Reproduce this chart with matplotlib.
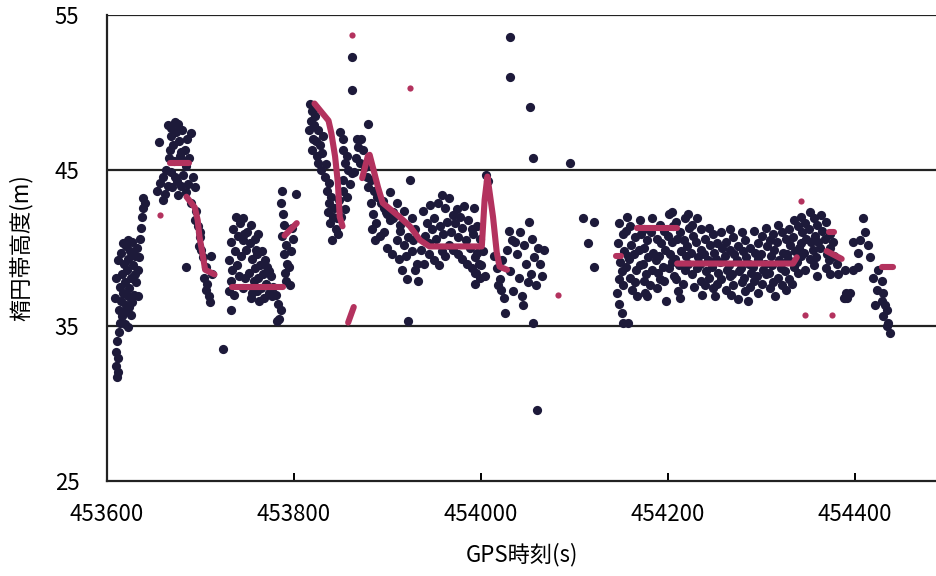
import matplotlib
matplotlib.use("Agg")
import matplotlib.pyplot as plt

plt.rcParams["font.family"] = ["Noto Sans CJK JP", "DejaVu Sans"]

OUT_FILE = "out.png"
DARK = "#1d1a3a"
RED = "#b3325e"

# ── 観測点 (GPS時刻, 楕円体高度) ──
pts_a = [
    (453611, 34.0), (453610, 33.3), (453612, 32.9), (453610, 32.4), (453612, 32.0), (453611, 31.7),
    (453613, 34.6), (453614, 35.2), (453616, 35.6), (453613, 36.0), (453618, 35.9), (453615, 36.6),
    (453620, 36.3), (453617, 37.1), (453622, 36.9), (453614, 37.5), (453619, 37.8), (453624, 37.4),
    (453616, 38.3), (453621, 38.6), (453626, 38.1), (453618, 39.0), (453623, 39.3), (453628, 38.9),
    (453615, 39.7), (453620, 40.1), (453625, 39.8), (453630, 39.5), (453627, 40.4), (453632, 40.0),
    (453624, 36.2), (453629, 37.0), (453631, 37.8), (453633, 38.6), (453634, 39.4), (453635, 40.6),
    (453636, 41.3), (453637, 42.0), (453638, 42.6), (453639, 43.2), (453641, 42.9), (453619, 35.1),
    (453626, 35.7), (453622, 34.9), (453609, 36.8), (453610, 38.1), (453612, 39.2), (453627, 36.5),
    (453630, 38.3), (453633, 36.9), (453617, 40.3), (453622, 40.5),
]
pts_b = [
    (453654, 43.7), (453657, 44.2), (453660, 44.6), (453656, 46.8), (453663, 45.0), (453665, 47.9),
    (453668, 47.2), (453671, 46.6), (453674, 47.5), (453677, 46.9), (453680, 47.6), (453683, 46.3),
    (453686, 47.0), (453690, 47.4), (453666, 45.8), (453669, 44.9), (453672, 45.6), (453675, 44.3),
    (453678, 45.9), (453681, 44.7), (453684, 45.3), (453687, 44.1), (453662, 43.5), (453665, 44.0),
    (453670, 43.9), (453676, 43.4), (453688, 45.8), (453692, 44.6), (453694, 43.9), (453679, 46.2),
    (453673, 48.1), (453667, 46.3), (453685, 43.6), (453669, 47.7), (453676, 48.0), (453682, 45.6),
    (453673, 44.6), (453679, 44.0), (453660, 43.1),
    (453690, 42.9), (453694, 41.8), (453697, 41.4), (453699, 40.7), (453698, 40.1), (453701, 39.9),
    (453703, 39.4), (453706, 38.8), (453704, 38.1), (453707, 37.7), (453706, 37.3), (453709, 36.9),
    (453711, 39.5), (453712, 38.3), (453710, 36.5), (453685, 38.8), (453695, 42.4), (453700, 41.0),
]
pts_c = [
    (453738, 42.0), (453742, 41.6), (453735, 41.2), (453746, 41.9), (453740, 40.8), (453733, 40.4),
    (453745, 40.5), (453750, 41.0), (453737, 39.8), (453743, 39.5), (453749, 39.9), (453753, 40.3),
    (453731, 39.2), (453734, 38.6), (453739, 38.9), (453755, 39.3), (453758, 38.7), (453761, 39.6),
    (453764, 38.9), (453752, 38.4), (453733, 37.9), (453730, 37.2), (453736, 37.0), (453757, 37.9),
    (453762, 38.1), (453767, 38.3), (453770, 37.7), (453760, 37.2), (453765, 37.4), (453773, 37.1),
    (453768, 36.8), (453776, 36.9), (453755, 37.1), (453763, 36.6), (453771, 38.8), (453748, 38.1),
    (453745, 37.4), (453766, 39.8), (453775, 38.2), (453778, 37.5), (453781, 37.0), (453783, 36.4),
    (453786, 36.0), (453784, 35.4), (453758, 40.6), (453762, 40.9), (453741, 38.2), (453747, 40.9),
    (453754, 41.5), (453759, 39.9), (453769, 39.2), (453773, 38.5),
    (453787, 43.7), (453802, 43.5), (453786, 42.9), (453788, 42.2), (453789, 41.5), (453787, 40.8),
    (453791, 40.2), (453789, 39.6), (453793, 39.0), (453790, 38.4), (453795, 38.8), (453797, 39.8),
    (453799, 40.6), (453796, 37.6), (453792, 37.9), (453798, 41.3),
]
pts_d = [
    (453817, 49.3), (453819, 48.8), (453818, 48.2), (453816, 47.6), (453821, 47.9), (453823, 48.5),
    (453826, 47.6), (453820, 47.0), (453824, 46.9), (453828, 46.6), (453819, 46.3), (453825, 45.9),
    (453830, 46.1), (453826, 45.5), (453829, 45.0), (453833, 44.6), (453837, 44.2), (453835, 43.7),
    (453840, 43.3), (453838, 42.9), (453843, 42.6), (453836, 42.3), (453842, 42.0), (453839, 41.6),
    (453845, 41.2), (453841, 40.5), (453847, 40.9), (453846, 41.9), (453822, 49.0), (453831, 47.2),
    (453834, 45.4),
    (453849, 47.5), (453853, 47.0), (453852, 46.3), (453857, 45.9), (453855, 45.5), (453858, 45.0),
    (453853, 44.4), (453860, 44.1), (453852, 43.7), (453857, 43.3), (453848, 43.1), (453862, 44.8),
    (453850, 42.0), (453855, 42.5), (453867, 47.0), (453872, 47.0), (453869, 46.5), (453874, 46.3),
    (453866, 45.8), (453871, 45.5), (453864, 44.9), (453876, 45.2), (453878, 44.6),
    (453882, 44.4), (453879, 43.9), (453886, 43.7), (453889, 43.3), (453882, 42.9), (453893, 42.9),
    (453896, 42.6), (453885, 42.2), (453900, 42.2), (453888, 41.6), (453903, 41.8), (453906, 42.3),
    (453884, 41.2), (453896, 41.0), (453887, 40.5), (453910, 40.5), (453914, 41.1), (453892, 40.8),
    (453900, 40.0), (453905, 39.6), (453912, 39.3), (453918, 40.2), (453920, 39.5), (453926, 39.8),
    (453916, 38.6), (453921, 38.0), (453927, 40.5), (453932, 39.0),
    (453938, 42.4), (453942, 41.6), (453946, 42.8), (453950, 41.9), (453954, 42.9), (453958, 43.4),
    (453962, 42.6), (453966, 43.2), (453970, 42.1), (453940, 40.8), (453944, 40.3), (453948, 41.2),
    (453952, 40.6), (453956, 41.4), (453960, 40.9), (453964, 41.7), (453968, 41.0), (453972, 41.6),
    (453976, 40.7), (453980, 41.3), (453984, 40.5), (453988, 40.0), (453992, 40.9), (453996, 39.7),
    (453974, 42.5), (453978, 42.0), (453982, 42.7), (453986, 41.8), (453990, 41.2), (453994, 39.4),
    (453998, 39.0), (453958, 39.8), (453962, 39.5), (453966, 40.2), (453970, 39.9), (453975, 39.6),
    (453980, 39.3), (453985, 39.0), (453990, 38.7), (453995, 38.4), (453999, 38.1), (453945, 39.6),
    (453950, 39.2), (453955, 38.9), (453936, 39.9), (453929, 38.6), (453933, 37.9), (453930, 41.2),
    (453926, 41.9), (453922, 40.7), (453918, 42.4), (453914, 41.5), (453910, 42.9), (453906, 41.9),
    (453903, 43.6), (453899, 42.3), (453895, 43.0), (453994, 37.7), (453994, 38.4), (453939, 39.0),
]
pts_e = [
    (453993, 42.6), (453996, 41.4), (453999, 40.6), (454002, 39.8), (454000, 38.9), (454004, 38.2),
    (454005, 44.7), (454008, 44.3), (454014, 39.5), (454017, 38.7), (454020, 38.0), (454022, 37.3),
    (454025, 36.8), (454026, 35.8), (454018, 37.6), (454023, 39.2), (454028, 39.9), (454031, 38.5),
    (454034, 37.2), (454036, 40.4), (454039, 39.6), (454041, 38.1), (454044, 36.9), (454042, 41.0),
    (454046, 40.2), (454048, 39.0), (454050, 37.8), (454052, 41.7), (454055, 40.6), (454057, 39.4),
    (454054, 38.3), (454059, 37.6), (454061, 40.0), (454063, 39.0), (454065, 38.2), (454068, 39.9),
    (454045, 36.3), (454030, 41.1), (454033, 40.5),
]
pts_f = [
    (454148, 41.6), (454147, 40.3), (454149, 39.1), (454148, 38.0), (454146, 37.1), (454148, 36.4),
    (454152, 40.9), (454153, 39.8), (454151, 38.5), (454152, 37.6), (454151, 35.8), (454152, 35.2),
    (454156, 42.0), (454155, 41.1), (454157, 39.5), (454155, 38.8),
    (454160, 41.4), (454161, 40.2), (454159, 39.3), (454160, 38.1), (454162, 37.3),
    (454165, 40.7), (454164, 39.6), (454166, 38.6), (454165, 37.8), (454167, 36.9),
    (454170, 41.8), (454171, 40.9), (454169, 39.9), (454170, 38.9),
    (454174, 41.2), (454175, 40.0), (454173, 39.0), (454174, 37.9), (454176, 37.1),
    (454178, 40.5), (454179, 39.4), (454177, 38.3), (454178, 36.9),
    (454183, 41.9), (454182, 41.0), (454184, 39.7), (454183, 38.6), (454181, 37.6),
    (454188, 40.6), (454187, 39.2), (454189, 38.4), (454188, 37.4),
    (454192, 41.5), (454193, 40.3), (454191, 39.5), (454192, 38.0),
    (454196, 41.1), (454197, 39.9), (454195, 38.8), (454196, 37.9), (454198, 36.6),
    (454201, 42.2), (454200, 40.8), (454202, 39.6), (454201, 38.7),
    (454205, 42.3), (454206, 41.4), (454204, 40.4), (454205, 39.1), (454207, 38.2),
    (454209, 41.7), (454210, 40.6), (454208, 39.3), (454209, 38.0), (454211, 37.2),
    (454213, 41.0), (454214, 39.8), (454212, 38.9), (454213, 36.8),
    (454218, 41.9), (454217, 40.5), (454219, 39.5), (454218, 38.6), (454216, 37.7),
    (454222, 42.2), (454223, 41.3), (454221, 40.1), (454222, 39.0),
    (454226, 41.5), (454227, 40.8), (454225, 39.7), (454226, 38.3), (454228, 37.5),
    (454231, 41.9), (454230, 40.4), (454232, 39.4), (454231, 38.7),
    (454235, 41.2), (454236, 39.9), (454234, 39.0), (454235, 37.9), (454237, 37.0),
    (454240, 40.6), (454239, 39.6), (454241, 38.5), (454240, 37.6),
    (454244, 41.3), (454245, 40.2), (454243, 39.2), (454244, 38.1),
    (454248, 40.9), (454249, 39.7), (454247, 38.8), (454248, 37.4), (454250, 36.9),
    (454253, 40.3), (454252, 39.3), (454254, 38.4), (454253, 37.7),
    (454257, 41.0), (454258, 40.0), (454256, 39.1), (454257, 38.0),
    (454262, 40.4), (454261, 39.5), (454263, 38.6), (454262, 37.3),
    (454266, 41.2), (454267, 39.9), (454265, 38.9), (454266, 38.2), (454268, 37.0),
    (454270, 40.7), (454271, 39.6), (454269, 38.3), (454270, 37.6),
    (454275, 40.1), (454274, 39.2), (454276, 38.5), (454275, 36.7),
    (454279, 41.0), (454280, 39.8), (454278, 38.7), (454279, 37.8),
    (454283, 40.5), (454284, 39.4), (454282, 38.1), (454283, 37.2),
    (454288, 40.0), (454287, 39.0), (454289, 38.4), (454288, 37.5), (454286, 36.6),
    (454292, 41.1), (454293, 39.7), (454291, 38.8), (454292, 37.9),
    (454296, 40.3), (454297, 39.3), (454295, 38.2), (454296, 37.1),
    (454301, 40.8), (454300, 39.6), (454302, 38.6), (454301, 37.7),
    (454305, 41.3), (454306, 40.1), (454304, 39.0), (454305, 38.3),
    (454309, 40.5), (454310, 39.5), (454308, 38.4), (454309, 37.4),
    (454313, 40.9), (454314, 39.9), (454312, 38.9), (454313, 37.8), (454315, 36.9),
    (454318, 41.5), (454317, 40.4), (454319, 39.2), (454318, 38.1),
    (454322, 41.0), (454323, 39.7), (454321, 38.7), (454322, 37.6),
    (454326, 40.6), (454327, 39.6), (454325, 38.5), (454326, 37.3),
    (454330, 41.2), (454331, 40.2), (454329, 39.3), (454330, 38.0),
    (454335, 41.8), (454334, 40.7), (454336, 39.8), (454335, 38.8), (454333, 37.7),
    (454339, 41.4), (454340, 40.0), (454338, 39.1), (454339, 38.4),
    (454343, 42.0), (454344, 41.0), (454342, 40.3), (454343, 39.5),
    (454347, 41.6), (454348, 40.6), (454346, 39.7), (454347, 38.6),
    (454352, 42.3), (454351, 41.2), (454353, 40.4), (454352, 39.3),
    (454356, 41.9), (454357, 40.8), (454355, 39.9), (454356, 38.9),
    (454360, 41.5), (454361, 40.4), (454359, 39.4), (454360, 38.2),
    (454364, 42.1), (454365, 41.1), (454363, 40.0),
    (454369, 41.7), (454368, 40.6), (454370, 39.6), (454369, 38.7),
    (454373, 40.9), (454374, 40.0), (454372, 39.2), (454373, 38.3),
    (454377, 40.4), (454378, 39.5), (454381, 39.0), (454382, 38.3),
    (454390, 38.6), (454391, 37.1), (454389, 36.8),
]
pts_tail = [
    (454398, 40.4), (454404, 38.8), (454406, 40.5), (454409, 41.9), (454411, 41.0), (454414, 40.2),
    (454416, 39.4), (454404, 39.7), (454420, 38.1), (454422, 36.3), (454424, 37.3), (454425, 38.6),
    (454429, 37.9), (454430, 37.1), (454429, 36.6), (454432, 36.3), (454435, 36.0), (454430, 35.6),
    (454436, 35.2), (454435, 35.0), (454438, 34.5), (454395, 37.1), (454392, 36.8), (454398, 38.6),
]
pts_outlier = [
    (453862, 52.3), (453862, 50.2), (454031, 53.6), (454031, 51.0), (454053, 49.1), (454056, 45.8),
    (454095, 45.5), (453879, 48.0), (453924, 44.4), (454109, 41.9), (454121, 41.7), (454115, 40.3),
    (454121, 38.8), (454056, 35.2), (454060, 29.6), (453724, 33.5), (453922, 35.3), (453782, 35.3),
    (453733, 36.0), (453754, 36.8), (454157, 35.2), (454390, 36.8),
]

# ── 推定値 (赤) ──
red_segments = [
    ([453667, 453688], [45.5, 45.5]),
    ([453685, 453694, 453697, 453699, 453702, 453705, 453715], [43.3, 42.6, 41.8, 40.7, 39.7, 38.6, 38.3]),
    ([453734, 453788], [37.5, 37.5]),
    ([453790, 453803], [40.8, 41.6]),
    ([453822, 453837, 453840, 453844, 453847, 453849, 453852], [49.3, 48.2, 47.4, 45.9, 44.2, 42.0, 41.4]),
    ([453858, 453864], [35.2, 36.2]),
    ([453873, 453879, 453881, 453890, 453895, 453913, 453924, 453935, 453945, 454001, 454004, 454007,
      454013, 454017, 454020, 454028],
     [44.5, 45.9, 46.0, 43.9, 42.9, 42.0, 41.4, 40.5, 40.1, 40.1, 43.1, 44.6, 42.0, 39.7, 38.8, 38.6]),
    ([454145, 454150], [39.5, 39.5]),
    ([454167, 454210], [41.3, 41.3]),
    ([454210, 454334, 454338], [39.0, 39.0, 39.4]),
    ([454372, 454378], [41.0, 41.0]),
    ([454370, 454386], [39.8, 39.3]),
    ([454429, 454441], [38.8, 38.8]),
]
red_t = [453657, 453862, 453924, 454083, 454343, 454347, 454376]
red_h = [42.1, 53.7, 50.3, 37.0, 43.0, 35.7, 35.7]

x_ticks = [453600, 453800, 454000, 454200, 454400]
y_ticks = [25, 35, 45, 55]

fig = plt.figure(figsize=(9.37, 5.76), dpi=100)
ax = fig.add_axes([107 / 937, 95 / 576, 830 / 937, 466 / 576])

dark = pts_a + pts_b + pts_c + pts_d + pts_e + pts_f + pts_tail + pts_outlier
ax.scatter([p[0] for p in dark], [p[1] for p in dark], marker="o", s=44,
           color=DARK, linewidths=0, zorder=2)

for seg_t, seg_h in red_segments:
    ax.plot(seg_t, seg_h, color=RED, lw=4.4, solid_capstyle="round", zorder=3)
ax.scatter(red_t, red_h, marker="o", s=20, color=RED, linewidths=0, zorder=3)

for y in (35, 45, 55):
    ax.axhline(y, color="#222222", lw=1.6, zorder=1)

ax.set_xlim(453600, 454488)
ax.set_ylim(25, 55)
ax.set_xticks(x_ticks)
ax.set_yticks(y_ticks)
ax.tick_params(axis="x", direction="in", length=6, width=1.4, pad=16, labelsize=16)
ax.tick_params(axis="y", length=0, pad=20, labelsize=16)
ax.spines["right"].set_visible(False)
ax.spines["top"].set_visible(False)
for s in ("left", "bottom"):
    ax.spines[s].set_linewidth(1.6)
    ax.spines[s].set_color("#222222")

ax.set_xlabel("GPS時刻(s)", fontsize=16, labelpad=12)
ax.set_ylabel("楕円帯高度(m)", fontsize=16)
ax.yaxis.set_label_coords(-0.09, 0.5)

plt.savefig(OUT_FILE, dpi=100)
